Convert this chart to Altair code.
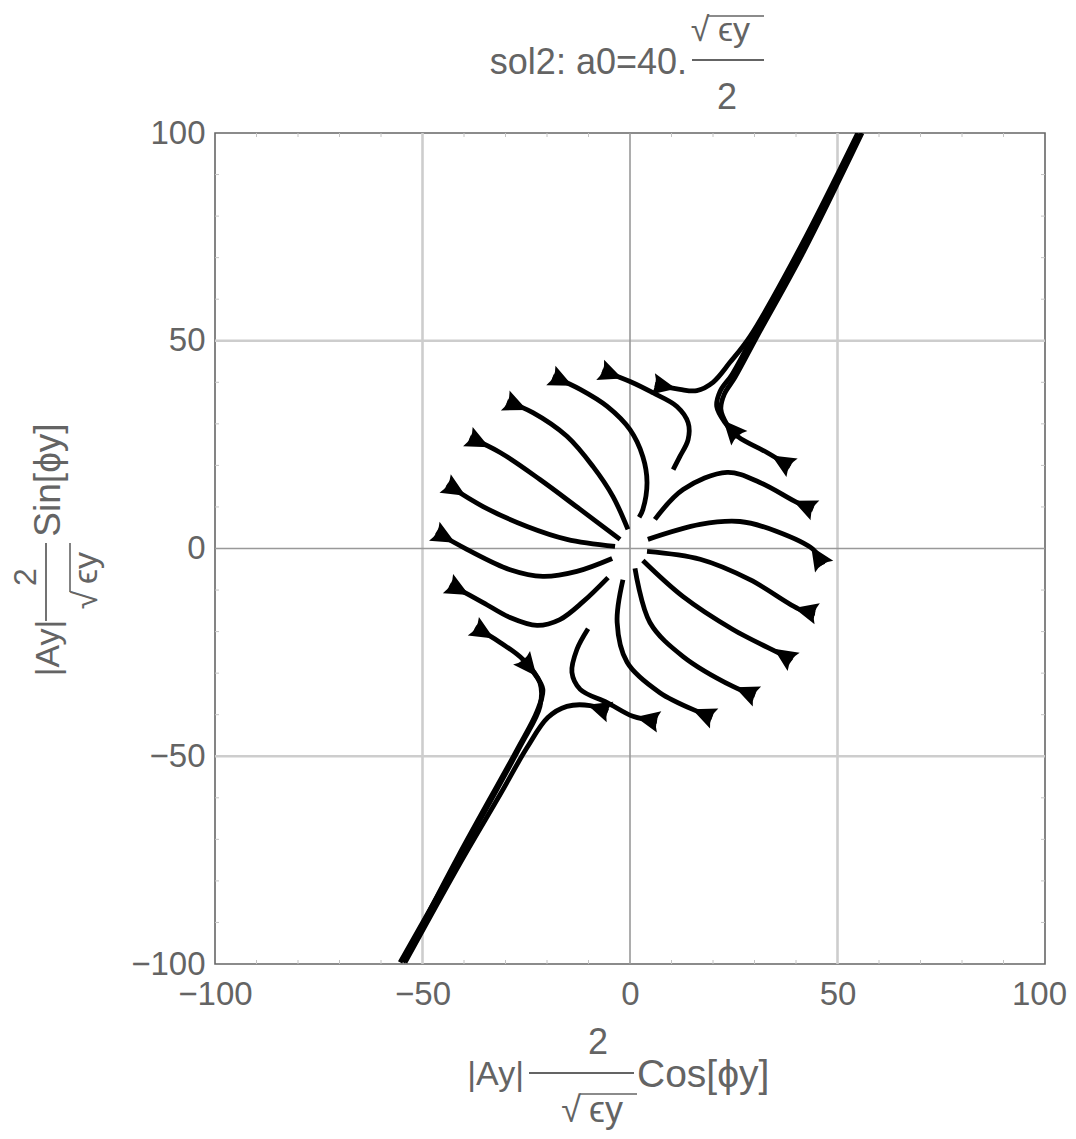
import math
import altair as alt
import pandas as pd

# ---- streamlines (data units), first point = arrowhead end ----
a_x = [-6.7, 0.0, 5.5, 11.3, 14.0, 14.0, 12.0, 10.4]
a_y = [42.8, 40.2, 37.5, 34.2, 30.3, 26.2, 22.1, 19.0]
b_x = [-18.6, -12.0, -5.5, 0.0, 3.1, 4.1, 3.1, 2.2]
b_y = [41.4, 38.3, 34.2, 28.6, 22.1, 15.9, 9.4, 7.5]
c_x = [-29.6, -23.4, -15.2, -8.9, -4.1, -0.5]
c_y = [35.4, 32.7, 27.0, 19.7, 12.5, 4.6]
d_x = [-38.6, -31.3, -21.7, -12.0, -2.4]
d_y = [26.7, 23.1, 16.6, 9.4, 2.2]
e_x = [-44.1, -35.4, -24.8, -15.2, -3.6]
e_y = [15.4, 10.1, 5.3, 2.2, 0.5]
f_x = [-46.7, -39.3, -28.9, -21.0, -12.8, -4.3]
f_y = [3.9, -0.2, -5.1, -6.7, -5.5, -2.4]
g_x = [-43.4, -35.4, -28.9, -22.4, -16.9, -11.3, -5.3]
g_y = [-8.7, -13.0, -16.6, -18.5, -17.1, -12.8, -7.0]
h_x = [-37.3, -31.3, -25.8, -21.7, -21.7, -26.5, -41.0, -55.4]
h_y = [-19.0, -22.6, -26.7, -32.3, -38.0, -47.7, -74.1, -99.6]
h2_x = [-25.8, -22.9, -21.0, -22.4, -27.2, -41.4, -54.7]
h2_y = [-26.7, -30.3, -33.9, -39.2, -48.4, -74.1, -99.6]
i_x = [6.5, 0.7, -5.5, -12.0, -14.0, -12.8, -10.1]
i_y = [-41.6, -40.4, -37.1, -33.9, -29.8, -24.3, -19.3]
r_x = [-5.3, -9.6, -15.2, -19.8, -24.8, -31.3, -41.0, -54.2]
r_y = [-39.2, -37.8, -38.0, -40.7, -47.9, -59.2, -75.8, -99.6]
j_x = [44.6, 41.0, 28.9, 16.9, 4.1]
j_y = [-15.6, -14.7, -7.5, -2.6, -0.7]
k_x = [39.0, 37.8, 24.8, 12.8, 3.1]
k_y = [-27.0, -26.2, -19.5, -11.6, -2.9]
l_x = [30.1, 24.8, 12.8, 4.8, 1.2]
l_y = [-35.4, -33.2, -26.0, -17.8, -4.8]
m_x = [19.8, 16.9, 7.2, -0.7, -3.1, -1.7]
m_y = [-40.7, -39.5, -34.7, -27.4, -17.8, -7.5]
o_x = [46.5, 44.1, 35.4, 26.5, 16.9, 4.3]
o_y = [-3.9, -0.2, 4.1, 6.5, 5.8, 2.2]
p_x = [44.1, 40.2, 31.3, 23.4, 12.8, 6.0]
p_y = [9.4, 11.1, 15.9, 18.3, 14.2, 7.0]
q_x = [38.6, 33.0, 26.0, 22.9, 20.9, 21.7, 24.6, 29.6, 41.0, 55.4]
q_y = [19.7, 23.1, 26.9, 30.3, 34.2, 37.8, 41.9, 51.0, 71.2, 99.6]
q2_x = [26.0, 23.4, 21.9, 22.7, 25.3, 30.6, 41.7, 55.9]
q2_y = [26.9, 29.8, 33.5, 37.1, 41.2, 51.0, 71.2, 100.0]
s_x = [6.0, 12.0, 16.1, 20.0, 24.1, 28.9, 41.0, 54.9]
s_y = [39.5, 38.3, 38.0, 40.0, 44.8, 51.0, 72.4, 100.0]

tick_values = [-100, -50, 0, 50, 100]
grid_light = [-50, 50]
grid_zero = [0]
minor_values = [-90, -80, -70, -60, -40, -30, -20, -10, 10, 20, 30, 40, 60, 70, 80, 90]

curves = {
    "a": (a_x, a_y), "b": (b_x, b_y), "c": (c_x, c_y), "d": (d_x, d_y),
    "e": (e_x, e_y), "f": (f_x, f_y), "g": (g_x, g_y), "h": (h_x, h_y),
    "h2": (h2_x, h2_y), "i": (i_x, i_y), "r": (r_x, r_y), "j": (j_x, j_y),
    "k": (k_x, k_y), "l": (l_x, l_y), "m": (m_x, m_y), "o": (o_x, o_y),
    "p": (p_x, p_y), "q": (q_x, q_y), "q2": (q2_x, q2_y), "s": (s_x, s_y),
}

W, H = 830, 831
KX, KY = W / 200.0, H / 200.0
OX, OY = 215, 133  # page position of plot origin
FONT = "Liberation Sans"
TC = "#646464"

rows, arrows = [], []
for name, (xs, ys) in curves.items():
    for n, (x, y) in enumerate(zip(xs, ys)):
        rows.append({"id": name, "k": n, "x": x, "y": y})
    dx = (xs[1] - xs[0]) * KX
    dy = -(ys[1] - ys[0]) * KY
    ang = math.degrees(math.atan2(dy, dx)) % 360
    arrows.append({"id": name, "x": xs[0], "y": ys[0], "ang": ang})
lines_df = pd.DataFrame(rows)
arrows_df = pd.DataFrame(arrows)

SC = alt.Scale(domain=[-100, 100], nice=False, zero=False)
AXX = alt.Axis(values=tick_values, title=None, grid=False, ticks=False, domain=False,
               labelFontSize=33, labelFont=FONT, labelColor=TC, labelPadding=14,
               labelFlush=False,
               labelOffset={"condition": {"test": "datum.value == 100", "value": -6}, "value": 0})
AXY = alt.Axis(values=tick_values, title=None, grid=False, ticks=False, domain=False,
               labelFontSize=33, labelFont=FONT, labelColor=TC, labelPadding=10,
               labelFlush=False)
X = lambda f="x": alt.X(f"{f}:Q", scale=SC, axis=AXX)
Y = lambda f="y": alt.Y(f"{f}:Q", scale=SC, axis=AXY)

gl_v = alt.Chart(pd.DataFrame({"x": grid_light})).mark_rule(color="#cdcdcd", strokeWidth=2.6).encode(x=X())
gl_h = alt.Chart(pd.DataFrame({"y": grid_light})).mark_rule(color="#cdcdcd", strokeWidth=2.6).encode(y=Y())
gz_v = alt.Chart(pd.DataFrame({"x": grid_zero})).mark_rule(color="#999999", strokeWidth=1.6).encode(x=X())
gz_h = alt.Chart(pd.DataFrame({"y": grid_zero})).mark_rule(color="#999999", strokeWidth=1.6).encode(y=Y())

mdf_x = pd.DataFrame({"x": minor_values})
mdf_y = pd.DataFrame({"y": minor_values})
mt = dict(color="#c4c4c4", strokeWidth=1)
minor_top = alt.Chart(mdf_x).mark_rule(**mt).encode(x=X(), y=alt.value(0), y2=alt.value(4))
minor_bot = alt.Chart(mdf_x).mark_rule(**mt).encode(x=X(), y=alt.value(H), y2=alt.value(H - 4))
minor_left = alt.Chart(mdf_y).mark_rule(**mt).encode(y=Y(), x=alt.value(0), x2=alt.value(4))
minor_right = alt.Chart(mdf_y).mark_rule(**mt).encode(y=Y(), x=alt.value(W), x2=alt.value(W - 4))

lines = alt.Chart(lines_df).mark_line(color="black", strokeWidth=4.8, clip=True,
                                      interpolate="catmull-rom", strokeCap="butt").encode(
    x=X(), y=Y(), detail="id:N", order="k:Q")

ARROW = "M-0.2,-1L2,0L-0.2,1Q0.3,0,-0.2,-1Z"
heads = alt.Chart(arrows_df).mark_point(shape=ARROW, filled=True, color="black", opacity=1,
                                        size=470, strokeWidth=0, clip=True).encode(
    x=X(), y=Y(), angle=alt.Angle("ang:Q", scale=None))

one = pd.DataFrame({"t": [""]})


def txt(s, px, py, align="center", angle=0, size=35):
    return alt.Chart(pd.DataFrame({"t": [s]})).mark_text(
        align=align, baseline="middle", fontSize=size, font=FONT, color=TC, angle=angle
    ).encode(text="t:N", x=alt.value(px - OX), y=alt.value(py - OY))


def hrule(x1, x2, py, w=1.8):
    return alt.Chart(one).mark_rule(color=TC, strokeWidth=w).encode(
        x=alt.value(x1 - OX), x2=alt.value(x2 - OX), y=alt.value(py - OY))


def vrule(px, y1, y2, w=1.8):
    return alt.Chart(one).mark_rule(color=TC, strokeWidth=w).encode(
        x=alt.value(px - OX), y=alt.value(y1 - OY), y2=alt.value(y2 - OY))


annot = [
    # title
    txt("sol2: a0=40.", 687, 63, align="right", size=36),
    hrule(692, 764, 60),
    txt("\u221a", 700, 31, size=34),
    txt("\u03f5y", 734, 31, size=34),
    hrule(708, 764, 16, w=1.6),
    txt("2", 727, 98, size=36),
    # x-axis title
    txt("|Ay|", 524, 1075, align="right", size=34),
    hrule(529, 634, 1073),
    txt("2", 598, 1043, size=36),
    txt("\u221a", 571, 1111, size=36),
    txt("\u03f5y", 606, 1111, size=36),
    hrule(580, 637, 1094, w=1.6),
    txt("Cos[\u03d5y]", 637, 1075, align="left", size=39),
    # y-axis title (rotated)
    txt("|Ay|", 49, 648, angle=270, size=34),
    vrule(46, 543, 621),
    txt("2", 26, 577, angle=270, size=32),
    txt("\u221a", 87, 600, angle=270, size=34),
    txt("\u03f5y", 87, 568, angle=270, size=34),
    vrule(70, 543, 592, w=1.6),
    txt("Sin[\u03d5y]", 49, 480, angle=270, size=37),
]

chart = alt.layer(
    gl_v, gl_h, gz_v, gz_h, minor_top, minor_bot, minor_left, minor_right,
    lines, heads, *annot
).properties(
    width=W, height=H,
    autosize=alt.AutoSizeParams(type="none"),
    padding={"left": OX - 8, "top": OY - 8, "right": 23, "bottom": 166},
).configure_view(stroke="#666666", strokeWidth=1.6)

chart.save("out.html", embed_options={"renderer": "svg", "actions": False})
